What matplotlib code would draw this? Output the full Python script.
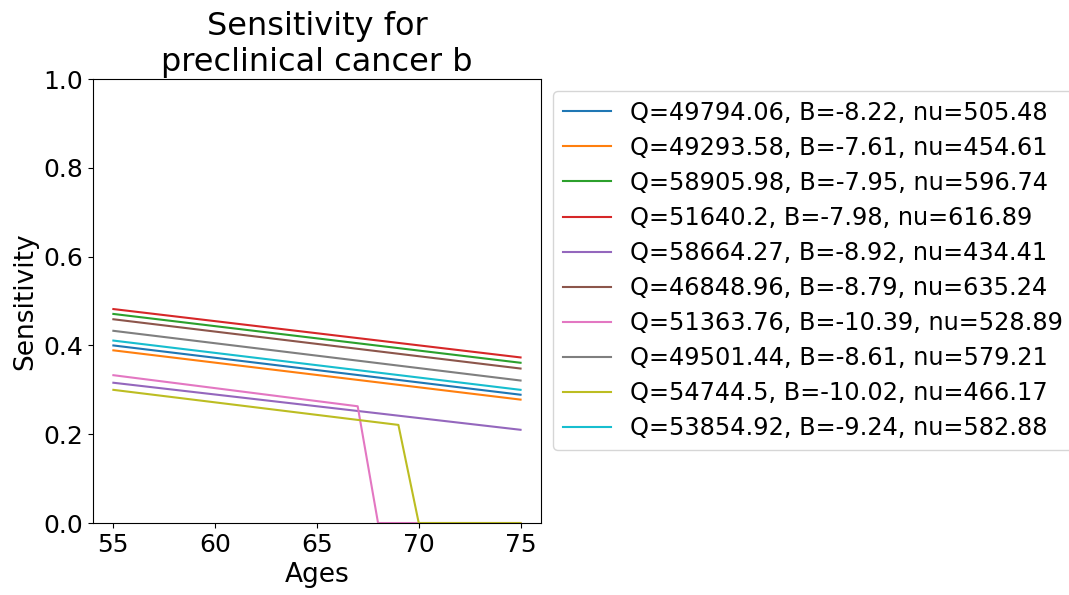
import matplotlib
matplotlib.use("Agg")
import matplotlib.pyplot as plt

# parameter sets shown in the legend
labels = [
    "Q=49794.06, B=-8.22, nu=505.48",
    "Q=49293.58, B=-7.61, nu=454.61",
    "Q=58905.98, B=-7.95, nu=596.74",
    "Q=51640.2, B=-7.98, nu=616.89",
    "Q=58664.27, B=-8.92, nu=434.41",
    "Q=46848.96, B=-8.79, nu=635.24",
    "Q=51363.76, B=-10.39, nu=528.89",
    "Q=49501.44, B=-8.61, nu=579.21",
    "Q=54744.5, B=-10.02, nu=466.17",
    "Q=53854.92, B=-9.24, nu=582.88",
]

# ages for each curve (start, kinks, end)
ages = [
    [55, 75],
    [55, 75],
    [55, 75],
    [55, 75],
    [55, 75],
    [55, 75],
    [55, 67, 68, 75],
    [55, 75],
    [55, 69, 70, 75],
    [55, 75],
]

sens = [
    [0.400, 0.289],
    [0.389, 0.278],
    [0.471, 0.361],
    [0.482, 0.373],
    [0.316, 0.210],
    [0.459, 0.348],
    [0.333, 0.263, 0.0, 0.0],
    [0.433, 0.321],
    [0.300, 0.221, 0.0, 0.0],
    [0.411, 0.300],
]

fig = plt.figure(figsize=(10.69, 5.95), dpi=100)
ax = fig.add_axes([0.087, 0.121, 0.419, 0.746])

for x, y, lab in zip(ages, sens, labels):
    ax.plot(x, y, label=lab)

ax.set_ylim(0, 1)
ax.set_xticks([55, 60, 65, 70, 75])
ax.tick_params(labelsize=18)
ax.set_xlabel("Ages", fontsize=19)
ax.set_ylabel("Sensitivity", fontsize=19)
ax.set_title("Sensitivity for\npreclinical cancer b", fontsize=23)
ax.legend(loc="upper left", bbox_to_anchor=(1.0, 1.0), fontsize=17.3,
          labelspacing=0.46)

fig.savefig("out.png", dpi=100)
